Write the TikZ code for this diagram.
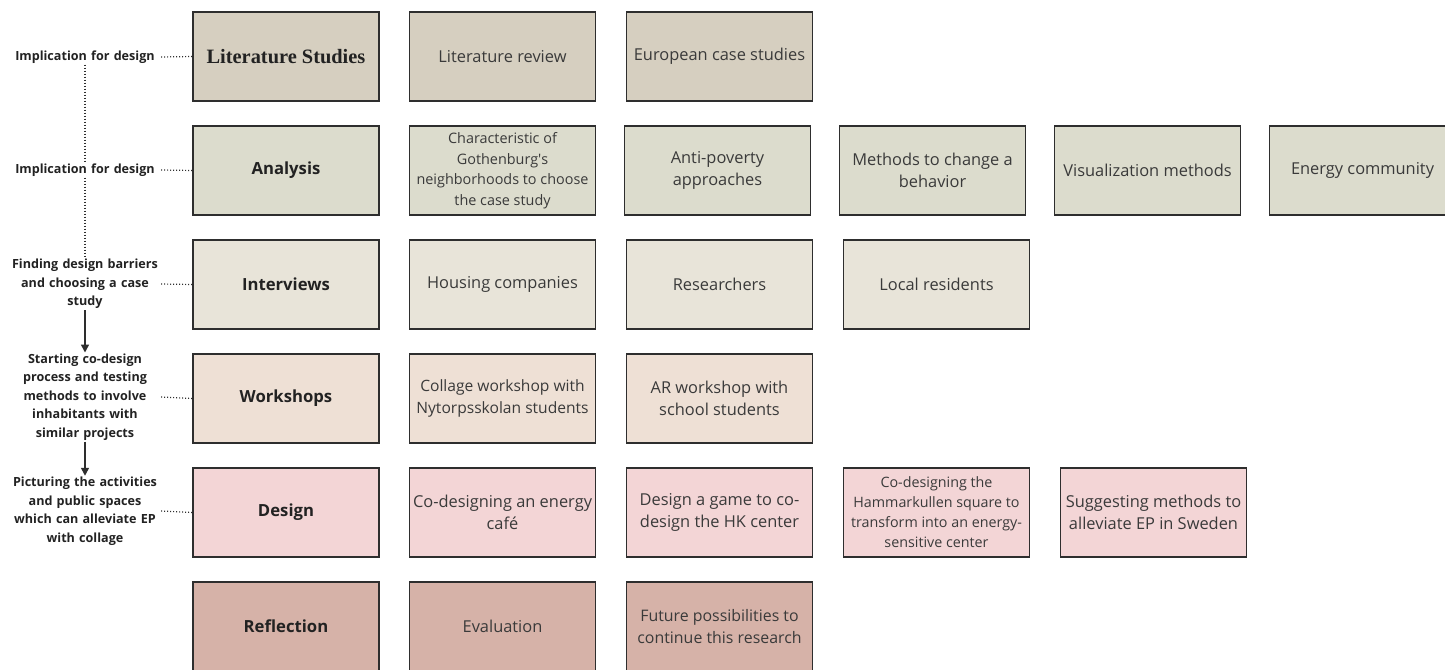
\documentclass[tikz,border=0pt]{standalone}
\usepackage{fontspec}
\setmainfont{Open Sans}
\newfontfamily\serifhead{Liberation Serif}
\usetikzlibrary{arrows.meta}
\definecolor{bord}{HTML}{2E2E2E}
\definecolor{txt}{HTML}{3A3A3A}
\definecolor{headtxt}{HTML}{222222}
\definecolor{cA}{HTML}{D6CFC0}
\definecolor{cB}{HTML}{DCDCCD}
\definecolor{cC}{HTML}{E8E4D9}
\definecolor{cD}{HTML}{EEE0D5}
\definecolor{cE}{HTML}{F3D5D6}
\definecolor{cF}{HTML}{D6B2A8}
\tikzset{
  box/.style={draw=bord, line width=1.8pt, minimum width=186pt, minimum height=89pt,
    inner sep=2pt, align=center, text=txt, font=\fontsize{16.4}{22}\selectfont},
  small/.style={font=\fontsize{14.4}{20.5}\selectfont},
  head/.style={box, text=headtxt, font=\fontsize{16.7}{20}\selectfont\bfseries},
  lab/.style={align=center, text width=150pt, inner sep=1pt, text=headtxt,
    font=\fontsize{12.6}{18.5}\selectfont\bfseries},
  dots/.style={draw=bord, line width=1.2pt, dash pattern=on 1pt off 2pt},
  arr/.style={draw=bord, line width=1.6pt, -{Triangle[length=8pt,width=8pt]}}
}
\begin{document}
\begin{tikzpicture}[x=1pt,y=-1pt]
\useasboundingbox (0,0) rectangle (1445,669);
% row 1
\node[head, fill=cA] (ls) at (286,56.5) {{\serifhead\bfseries\fontsize{20.4}{24}\selectfont Literature Studies}};
\node[box, fill=cA] (lr) at (502.5,56.5) {Literature review};
\node[box, fill=cA] (ec) at (719.5,56.5) {European case studies};
% row 2
\node[head, fill=cB] (an) at (286,170.5) {Analysis};
\node[box, fill=cB, small] (ch) at (502.5,170.5) {Characteristic of\\Gothenburg\textquotesingle s\\neighborhoods to choose\\the case study};
\node[box, fill=cB] (ap) at (717.5,170.5) {Anti-poverty\\approaches};
\node[box, fill=cB] (mc) at (932.5,170.5) {Methods to change a\\behavior};
\node[box, fill=cB] (vm) at (1147.5,170.5) {Visualization methods};
\node[box, fill=cB] (en) at (1362.5,170.5) {Energy community};
% row 3
\node[head, fill=cC] (iv) at (286,284.5) {Interviews};
\node[box, fill=cC] (hc) at (502.5,284.5) {Housing companies};
\node[box, fill=cC] (rs) at (719.5,284.5) {Researchers};
\node[box, fill=cC] (lo) at (936.5,284.5) {Local residents};
% row 4
\node[head, fill=cD] (ws) at (286,398.5) {Workshops};
\node[box, fill=cD, font=\fontsize{15.6}{21.5}\selectfont] (cw) at (502.5,398.5) {Collage workshop with\\Nytorpsskolan students};
\node[box, fill=cD] (ar) at (719.5,398.5) {AR workshop with\\school students};
% row 5
\node[head, fill=cE] (de) at (286,512.5) {Design};
\node[box, fill=cE] (cc) at (502.5,512.5) {Co-designing an energy\\café};
\node[box, fill=cE] (dg) at (719.5,512.5) {Design a game to co-\\design the HK center};
\node[box, fill=cE, font=\fontsize{14.3}{20}\selectfont] (hs) at (936.5,512.5) {Co-designing the\\Hammarkullen square to\\transform into an energy-\\sensitive center};
\node[box, fill=cE] (sm) at (1153.5,512.5) {Suggesting methods to\\alleviate EP in Sweden};
% row 6
\node[head, fill=cF] (re) at (286,626.5) {Reflection};
\node[box, fill=cF] (ev) at (502.5,626.5) {Evaluation};
\node[box, fill=cF, font=\fontsize{15.9}{22}\selectfont] (fp) at (719.5,626.5) {Future possibilities to\\continue this research};
% left labels
\node[lab] (l1) at (85,57) {Implication for design};
\node[lab] (l2) at (85,170) {Implication for design};
\node[lab] (l3) at (85,284) {Finding design barriers\\and choosing a case\\study};
\node[lab] (l4) at (85,397) {Starting co-design\\process and testing\\methods to involve\\inhabitants with\\similar projects};
\node[lab] (l5) at (85,511) {Picturing the activities\\and public spaces\\which can alleviate EP\\with collage};
% connectors
\draw[dots] (l1.east) -- (ls.west);
\draw[dots] (l2.east) -- (an.west);
\draw[dots] (l3.east) -- (iv.west);
\draw[dots] (l4.east) -- (ws.west);
\draw[dots] (l5.east) -- (de.west);
\draw[dots] (l1.south) -- (l2.north);
\draw[dots] (l2.south) -- (l3.north);
\draw[arr] (l3.south) -- (l4.north);
\draw[arr] (l4.south) -- (l5.north);
\end{tikzpicture}
\end{document}
